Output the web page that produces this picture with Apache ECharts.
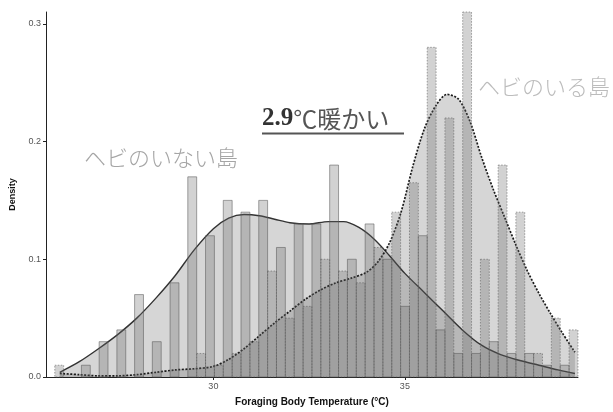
<!DOCTYPE html>
<html>
<head>
<meta charset="utf-8">
<script src="https://cdn.jsdelivr.net/npm/echarts@6/dist/echarts.min.js"></script>
<style>
  html, body { margin: 0; padding: 0; background: #fff; }
  #chart { width: 613px; height: 412px; }
</style>
</head>
<body>
<div id="chart"></div>
<script>
// Histogram bins: 30 bins, dodged (snake island on the left half, snake-free island on the right half)
const binStart = 25.86;
const binWidth = 0.463;

const snakeIslandHist = [0.01, 0, 0, 0, 0, 0, 0, 0, 0.02, 0.01, 0.02, 0.03, 0.09, 0.05, 0.06,
                         0.10, 0.09, 0.08, 0.11, 0.14, 0.165, 0.28, 0.22, 0.31, 0.10, 0.18, 0.14, 0.02, 0.05, 0.04];
const snakeFreeHist   = [0, 0.01, 0.03, 0.04, 0.07, 0.03, 0.08, 0.17, 0.12, 0.15, 0.14, 0.15, 0.11, 0.13, 0.13,
                         0.18, 0.10, 0.13, 0.10, 0.06, 0.12, 0.04, 0.02, 0.02, 0.03, 0.02, 0.02, 0.01, 0.01, 0];

// Kernel density estimates [temperature, density]
const snakeFreeDensity = [
  [25.99, 0.004], [26.5, 0.013], [27.0, 0.024], [27.5, 0.036], [28.0, 0.050], [28.5, 0.067],
  [29.0, 0.086], [29.5, 0.108], [30.0, 0.126], [30.4, 0.135], [30.8, 0.138], [31.2, 0.137],
  [31.6, 0.134], [32.0, 0.131], [32.5, 0.130], [33.0, 0.132], [33.4, 0.132], [33.8, 0.127],
  [34.2, 0.117], [34.6, 0.103], [35.0, 0.088], [35.5, 0.072], [36.0, 0.056], [36.5, 0.040],
  [37.0, 0.027], [37.5, 0.019], [38.0, 0.014], [38.5, 0.010], [39.0, 0.006], [39.44, 0.003]
];
const snakeIslandDensity = [
  [25.99, 0.003], [26.5, 0.002], [27.0, 0.001], [27.5, 0.001], [28.0, 0.002], [28.5, 0.004],
  [29.0, 0.006], [29.5, 0.007], [30.0, 0.009], [30.4, 0.015], [30.8, 0.024], [31.2, 0.035],
  [31.6, 0.046], [32.0, 0.056], [32.4, 0.066], [32.8, 0.074], [33.2, 0.080], [33.6, 0.084],
  [34.0, 0.089], [34.3, 0.098], [34.6, 0.114], [34.9, 0.140], [35.2, 0.178], [35.5, 0.210],
  [35.8, 0.230], [36.1, 0.240], [36.4, 0.236], [36.7, 0.217], [37.0, 0.187], [37.3, 0.160],
  [37.6, 0.136], [37.9, 0.112], [38.2, 0.090], [38.5, 0.071], [38.8, 0.054], [39.1, 0.038],
  [39.44, 0.021]
];

const xTicks = [30, 35];
const yTicks = [0, 0.1, 0.2, 0.3];

const labelSnake = 'ヘビのいる島';
const labelNoSnake = 'ヘビのいない島';
const diffNumber = '2.9';
const diffText = '℃暖かい';

function histData(heights, half) {
  return heights.map((h, i) => {
    const x0 = binStart + i * binWidth + half * binWidth / 2;
    return [x0, x0 + binWidth / 2, h];
  });
}

function barRenderer(borderType) {
  return function (params, api) {
    const h = api.value(2);
    if (!h) return null;
    const p0 = api.coord([api.value(0), h]);
    const p1 = api.coord([api.value(1), 0]);
    return {
      type: 'rect',
      shape: { x: p0[0], y: p0[1], width: p1[0] - p0[0], height: p1[1] - p0[1] },
      style: {
        fill: 'rgba(105,105,105,0.30)',
        stroke: 'rgba(90,90,90,0.55)',
        lineWidth: 1,
        lineDash: borderType === 'dotted' ? [1.5, 1.5] : null
      }
    };
  };
}

const chart = echarts.init(document.getElementById('chart'), null, { renderer: 'canvas' });

chart.setOption({
  animation: false,
  backgroundColor: '#ffffff',
  grid: { left: 41, right: 35, top: 12, bottom: 30 },
  xAxis: {
    type: 'value',
    min: 25.63,
    max: 39.52,
    name: 'Foraging Body Temperature (°C)',
    nameLocation: 'middle',
    nameGap: 20,
    nameTextStyle: { fontFamily: 'Liberation Sans', fontWeight: 'bold', fontSize: 10, color: '#111' },
    axisLine: { onZero: false, lineStyle: { color: '#222', width: 1 } },
    axisTick: { customValues: xTicks, length: 3, lineStyle: { color: '#222' } },
    axisLabel: { customValues: xTicks, fontFamily: 'Liberation Sans', fontSize: 9, color: '#555', margin: 5 },
    splitLine: { show: false }
  },
  yAxis: {
    type: 'value',
    min: 0,
    max: 0.31,
    name: 'Density',
    nameLocation: 'middle',
    nameGap: 29,
    nameTextStyle: { fontFamily: 'Liberation Sans', fontWeight: 'bold', fontSize: 9, color: '#111' },
    axisLine: { show: true, lineStyle: { color: '#222', width: 1 } },
    axisTick: { show: true, customValues: yTicks, length: 3, lineStyle: { color: '#222' } },
    axisLabel: {
      customValues: yTicks,
      fontFamily: 'Liberation Sans', fontSize: 9, color: '#555', margin: 5,
      formatter: v => v.toFixed(1)
    },
    splitLine: { show: false }
  },
  series: [
    {
      name: labelNoSnake + ' density',
      type: 'line',
      data: snakeFreeDensity,
      smooth: 0.3,
      showSymbol: false,
      z: 2,
      lineStyle: { color: '#333', width: 1.4 },
      areaStyle: { color: 'rgba(100,100,100,0.38)', origin: 'start' }
    },
    {
      name: labelSnake + ' density',
      type: 'line',
      data: snakeIslandDensity,
      smooth: 0.3,
      showSymbol: false,
      z: 2,
      lineStyle: { color: '#1a1a1a', width: 1.7, type: [2, 1.5] },
      areaStyle: { color: 'rgba(100,100,100,0.38)', origin: 'start' }
    },
    {
      name: labelSnake,
      type: 'custom',
      z: 3,
      renderItem: barRenderer('dotted'),
      encode: { x: [0, 1], y: 2 },
      data: histData(snakeIslandHist, 0)
    },
    {
      name: labelNoSnake,
      type: 'custom',
      z: 3,
      renderItem: barRenderer('solid'),
      encode: { x: [0, 1], y: 2 },
      data: histData(snakeFreeHist, 1)
    }
  ],
  graphic: [
    {
      type: 'text',
      left: 84, top: 147,
      z: 10,
      style: { text: labelNoSnake, font: '300 22px "Noto Sans CJK JP"', fill: '#a5a5a5' }
    },
    {
      type: 'text',
      left: 478, top: 76,
      z: 10,
      style: { text: labelSnake, font: '300 22px "Noto Sans CJK JP"', fill: '#bcbcbc' }
    },
    {
      type: 'text',
      left: 262, top: 106,
      z: 10,
      style: {
        text: '{n|' + diffNumber + '}{t|' + diffText + '}',
        rich: {
          n: { fontFamily: 'Liberation Serif', fontWeight: 'bold', fontSize: 25, fill: '#333' },
          t: { fontFamily: 'Noto Sans CJK JP', fontSize: 24, fill: '#555' }
        }
      }
    },
    {
      type: 'line',
      z: 10,
      shape: { x1: 262, y1: 133.5, x2: 404, y2: 133.5 },
      style: { stroke: '#555', lineWidth: 2 }
    }
  ]
});
</script>
</body>
</html>
